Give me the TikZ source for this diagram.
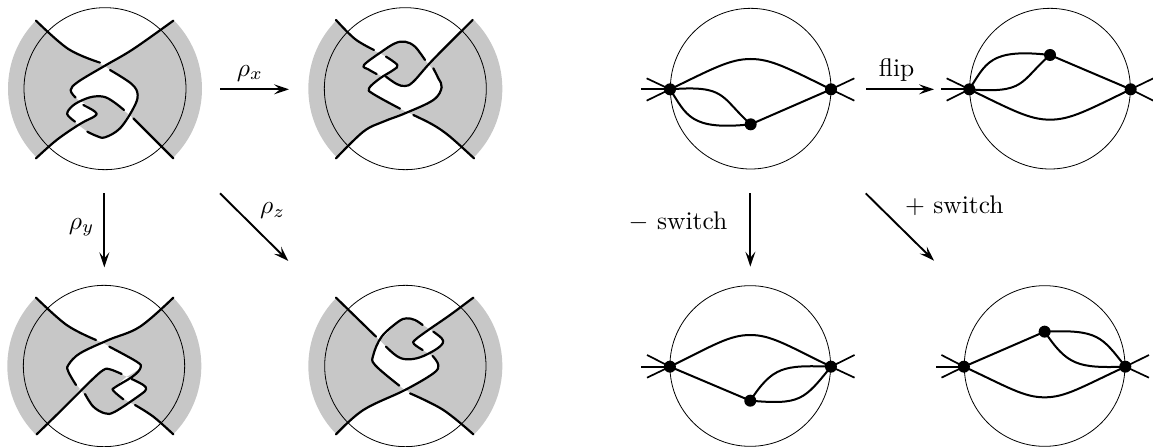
\documentclass[tikz,border=0pt]{standalone}
\usetikzlibrary{arrows.meta}
\definecolor{shade}{gray}{0.78}
\tikzset{
 strand/.style={line width=2.2pt,line cap=round,line join=round},
 ring/.style={line width=0.8pt},
 lobe/.style={fill=shade},
 hole/.style={fill=white},
 edgeline/.style={line width=2pt},
 stub/.style={line width=1.7pt},
 dot/.style={circle,fill=black,inner sep=0pt,minimum size=12pt},
 arrowline/.style={line width=1.9pt,-{Stealth[length=15pt,width=10pt,inset=6pt]}},
 lab/.style={inner sep=0pt,scale=2.55}
}
\begin{document}
\begin{tikzpicture}[x=0.33333pt,y=-0.33333pt,smooth,tension=0.6]
\useasboundingbox (0,0) rectangle (3459,1341);
% ---- panel 1
\begin{scope}
\fill[lobe] (315,266) circle[radius=291];
\fill[hole] plot coordinates {(108,62)(205,147)(315,197)} -- plot coordinates {(315,197)(400,147)(520,62)} -- (520,-10) -- (108,-10) -- cycle;
\fill[hole] plot coordinates {(315,197)(235,245)(212,270)(227,293)(245,305)} -- plot coordinates {(245,305)(270,292)(310,290)(340,305)(385,342)} -- plot coordinates {(385,342)(400,325)(413,285)(395,252)(330,210)(315,197)} -- cycle;
\fill[hole] plot coordinates {(245,305)(285,335)(285,348)(235,375)} -- plot coordinates {(235,375)(205,348)(203,335)(225,312)(245,305)} -- cycle;
\fill[hole] plot coordinates {(108,475)(170,420)(235,375)} -- plot coordinates {(235,375)(262,395)(290,408)(315,412)(360,385)(385,342)} -- plot coordinates {(385,342)(520,475)} -- (520,570) -- (108,570) -- cycle;
\draw[ring] (315,266) circle[radius=243];
\draw[strand] plot coordinates {(108,62)(205,147)(300,188)};
\draw[strand] plot coordinates {(330,210)(395,252)(413,285)(400,325)(360,385)(315,412)(290,408)(262,395)};
\draw[strand] plot coordinates {(225,365)(205,348)(203,335)(225,312)(270,292)(310,290)(340,305)(372,330)};
\draw[strand] plot coordinates {(400,355)(520,475)};
\draw[strand] plot coordinates {(520,62)(400,147)(315,197)(235,245)(212,270)(227,293)};
\draw[strand] plot coordinates {(250,315)(285,335)(285,348)(240,372)(170,420)(108,475)};
\end{scope}
% ---- panel 2
\begin{scope}[shift={(900,0)}]
\fill[lobe] (316,266) circle[radius=291];
\fill[hole] plot coordinates {(108,60)(165,117)(240,160)} -- plot coordinates {(240,160)(285,130)(315,125)(345,140)(385,192)} -- plot coordinates {(385,192)(518,60)} -- (518,-10) -- (108,-10) -- cycle;
\fill[hole] plot coordinates {(240,160)(292,195)(280,210)(245,228)} -- plot coordinates {(245,228)(205,208)(192,195)(240,160)} -- cycle;
\fill[hole] plot coordinates {(245,228)(207,265)(220,282)(320,336)} -- plot coordinates {(320,336)(400,300)(425,262)(415,235)(385,192)} -- plot coordinates {(385,192)(340,245)(315,258)(290,252)(245,228)} -- cycle;
\fill[hole] plot coordinates {(108,475)(190,395)(250,365)(320,336)} -- plot coordinates {(320,336)(400,375)(450,410)(522,475)} -- (522,570) -- (108,570) -- cycle;
\draw[ring] (316,266) circle[radius=243];
\draw[strand] plot coordinates {(108,60)(165,117)(222,150)};
\draw[strand] plot coordinates {(258,170)(292,195)(280,210)(240,235)(207,265)(220,282)(300,326)};
\draw[strand] plot coordinates {(340,345)(400,375)(450,410)(522,475)};
\draw[strand] plot coordinates {(108,475)(190,395)(250,365)(315,340)(400,300)(425,262)(415,235)(400,205)};
\draw[strand] plot coordinates {(375,180)(345,140)(315,125)(285,130)(245,155)(192,195)(205,208)(230,222)};
\draw[strand] plot coordinates {(258,230)(290,252)(315,258)(340,245)(400,178)(518,60)};
\end{scope}
% ---- panel 3
\begin{scope}[shift={(0,810)}]
\fill[lobe] (313,288) circle[radius=291];
\fill[hole] plot coordinates {(108,83)(200,165)(308,218)} -- plot coordinates {(308,218)(420,170)(520,83)} -- (520,-3) -- (108,-3) -- cycle;
\fill[hole] plot coordinates {(308,218)(240,250)(205,285)(205,305)(240,357)} -- plot coordinates {(240,357)(270,335)(310,300)(330,298)(380,320)} -- plot coordinates {(380,320)(422,292)(410,275)(328,230)(308,218)} -- cycle;
\fill[hole] plot coordinates {(380,320)(345,352)(340,362)(388,397)} -- plot coordinates {(388,397)(420,375)(438,358)(430,345)(380,320)} -- cycle;
\fill[hole] plot coordinates {(110,493)(190,415)(240,357)} -- plot coordinates {(240,357)(280,410)(315,430)(345,425)(388,397)} -- plot coordinates {(388,397)(460,440)(520,493)} -- (520,590) -- (110,590) -- cycle;
\draw[ring] (312,288) circle[radius=242];
\draw[strand] plot coordinates {(108,83)(200,165)(288,210)};
\draw[strand] plot coordinates {(328,230)(410,275)(422,292)(400,318)(345,352)(340,362)(370,388)};
\draw[strand] plot coordinates {(405,405)(460,440)(520,493)};
\draw[strand] plot coordinates {(520,83)(420,170)(325,210)(240,250)(205,285)(205,305)(228,345)};
\draw[strand] plot coordinates {(255,372)(280,410)(315,430)(345,425)(420,375)(438,358)(430,345)(395,327)};
\draw[strand] plot coordinates {(365,312)(330,298)(310,300)(270,335)(190,415)(110,493)};
\end{scope}
% ---- panel 4
\begin{scope}[shift={(900,810)}]
\fill[lobe] (316,288) circle[radius=291];
\fill[hole] plot coordinates {(108,83)(240,212)} -- plot coordinates {(240,212)(295,155)(320,145)(345,150)(385,175)} -- plot coordinates {(385,175)(450,135)(520,83)} -- (520,-3) -- (108,-3) -- cycle;
\fill[hole] plot coordinates {(385,175)(345,210)(342,222)(385,250)} -- plot coordinates {(385,250)(405,240)(428,220)(425,205)(385,175)} -- cycle;
\fill[hole] plot coordinates {(240,212)(220,255)(225,285)(315,360)} -- plot coordinates {(315,360)(400,310)(415,285)(385,250)} -- plot coordinates {(385,250)(360,262)(320,268)(290,258)(240,212)} -- cycle;
\fill[hole] plot coordinates {(108,493)(190,420)(315,360)} -- plot coordinates {(315,360)(430,420)(520,493)} -- (520,590) -- (108,590) -- cycle;
\draw[ring] (316,288) circle[radius=242];
\draw[strand] plot coordinates {(108,83)(228,200)};
\draw[strand] plot coordinates {(258,230)(290,258)(320,268)(360,262)(405,240)(428,220)(425,205)(400,185)};
\draw[strand] plot coordinates {(368,165)(345,150)(320,145)(295,155)(245,200)(220,255)(225,285)(298,347)};
\draw[strand] plot coordinates {(330,370)(430,420)(520,493)};
\draw[strand] plot coordinates {(520,83)(450,135)(385,180)(345,210)(342,222)(368,240)};
\draw[strand] plot coordinates {(398,258)(415,285)(400,310)(315,360)(190,420)(108,493)};
\end{scope}
% ---- graph R1
\begin{scope}[shift={(1890,0)}]
\draw[ring] (362,266) circle[radius=241];
\node[dot] (a1) at (120,268) {};
\node[dot] (a2) at (603,268) {};
\node[dot] (a3) at (362,373) {};
\coordinate (a4) at (33,268); \coordinate (a5) at (50,235); \coordinate (a6) at (50,302);
\coordinate (a7) at (673,235); \coordinate (a8) at (673,302);
\draw[stub] (a1.center) -- (a4); \draw[stub] (a1.center) -- (a5); \draw[stub] (a1.center) -- (a6);
\draw[stub] (a2.center) -- (a7); \draw[stub] (a2.center) -- (a8);
\draw[edgeline] (a1.center) .. controls (250,205) and (300,177) .. (362,177) .. controls (424,177) and (474,205) .. (a2.center);
\draw[edgeline] (a1.center) .. controls (290,255) and (270,290) .. (a3.center);
\draw[edgeline] (a1.center) .. controls (170,345) and (180,392) .. (a3.center);
\draw[edgeline] (a3.center) -- (a2.center);
\end{scope}
% ---- graph R2
\begin{scope}[shift={(1890,0)}]
\draw[ring] (1260,266) circle[radius=241];
\node[dot] (b1) at (1018,268) {};
\node[dot] (b2) at (1502,268) {};
\node[dot] (b3) at (1260,165) {};
\coordinate (b4) at (932,268); \coordinate (b5) at (950,235); \coordinate (b6) at (950,302);
\coordinate (b7) at (1570,235); \coordinate (b8) at (1570,302);
\draw[stub] (b1.center) -- (b4); \draw[stub] (b1.center) -- (b5); \draw[stub] (b1.center) -- (b6);
\draw[stub] (b2.center) -- (b7); \draw[stub] (b2.center) -- (b8);
\draw[edgeline] (b1.center) .. controls (1148,331) and (1198,359) .. (1260,359) .. controls (1322,359) and (1372,331) .. (b2.center);
\draw[edgeline] (b1.center) .. controls (1188,281) and (1168,246) .. (b3.center);
\draw[edgeline] (b1.center) .. controls (1068,191) and (1078,144) .. (b3.center);
\draw[edgeline] (b3.center) -- (b2.center);
\end{scope}
% ---- graph R3
\begin{scope}[shift={(1830,510)},xscale=1.0389]
\draw[ring] (405,588) ellipse[x radius=232,y radius=241];
\node[dot] (c1) at (173,590) {};
\node[dot] (c2) at (638,590) {};
\node[dot] (c3) at (405,692) {};
\coordinate (c4) at (90,590); \coordinate (c5) at (107,555); \coordinate (c6) at (107,623);
\coordinate (c7) at (706,555); \coordinate (c8) at (706,623);
\draw[stub] (c1.center) -- (c4); \draw[stub] (c1.center) -- (c5); \draw[stub] (c1.center) -- (c6);
\draw[stub] (c2.center) -- (c7); \draw[stub] (c2.center) -- (c8);
\draw[edgeline] (c1.center) .. controls (300,525) and (345,495) .. (405,495) .. controls (465,495) and (510,525) .. (c2.center);
\draw[edgeline] (c1.center) -- (c3.center);
\draw[edgeline] (c3.center) .. controls (470,590) and (500,585) .. (c2.center);
\draw[edgeline] (c3.center) .. controls (550,705) and (560,690) .. (c2.center);
\end{scope}
% ---- graph R4
\begin{scope}[shift={(1830,510)},xscale=1.0389]
\draw[ring] (1255,588) ellipse[x radius=232,y radius=241];
\node[dot] (d1) at (1022,590) {};
\node[dot] (d2) at (1488,590) {};
\node[dot] (d3) at (1255,485) {};
\coordinate (d4) at (940,590); \coordinate (d5) at (957,555); \coordinate (d6) at (957,623);
\coordinate (d7) at (1556,555); \coordinate (d8) at (1556,623);
\draw[stub] (d1.center) -- (d4); \draw[stub] (d1.center) -- (d5); \draw[stub] (d1.center) -- (d6);
\draw[stub] (d2.center) -- (d7); \draw[stub] (d2.center) -- (d8);
\draw[edgeline] (d1.center) .. controls (1150,652) and (1195,682) .. (1255,682) .. controls (1315,682) and (1360,652) .. (d2.center);
\draw[edgeline] (d1.center) -- (d3.center);
\draw[edgeline] (d3.center) .. controls (1410,478) and (1420,500) .. (d2.center);
\draw[edgeline] (d3.center) .. controls (1320,585) and (1350,595) .. (d2.center);
\end{scope}
% ---- arrows
\coordinate (x1) at (660,268); \coordinate (x2) at (867,268);
\coordinate (y1) at (313,580); \coordinate (y2) at (313,802);
\coordinate (z1) at (660,580); \coordinate (z2) at (865,783);
\coordinate (f1) at (2598,268); \coordinate (f2) at (2802,268);
\coordinate (m1) at (2251,580); \coordinate (m2) at (2251,800);
\coordinate (p1) at (2597,580); \coordinate (p2) at (2802,782);
\draw[arrowline] (x1) -- (x2);
\draw[arrowline] (y1) -- (y2);
\draw[arrowline] (z1) -- (z2);
\draw[arrowline] (f1) -- (f2);
\draw[arrowline] (m1) -- (m2);
\draw[arrowline] (p1) -- (p2);
\node[lab] (lx) at (750,219) {$\rho_x$};
\node[lab] (ly) at (245,682) {$\rho_y$};
\node[lab] (lz) at (818,632) {$\rho_z$};
\node[lab] (lf) at (2690,210) {flip};
\node[lab] (lm) at (2034,665) {$-$ switch};
\node[lab] (lp) at (2863,618) {$+$ switch};
\end{tikzpicture}
\end{document}
